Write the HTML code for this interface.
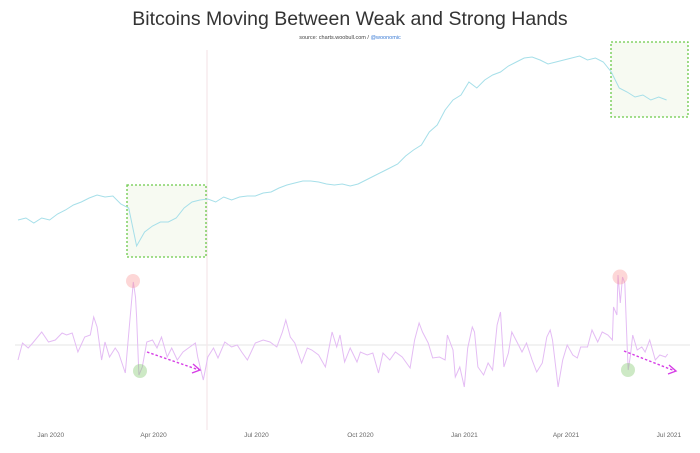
<!DOCTYPE html>
<html><head><meta charset="utf-8"><style>
body{margin:0;background:#fff;width:700px;height:448px;overflow:hidden;font-family:"Liberation Sans",sans-serif}
</style></head><body>
<svg id="chart" width="700" height="448" xmlns="http://www.w3.org/2000/svg">
<text x="350" y="25" text-anchor="middle" font-size="19.5" fill="#333" font-family="Liberation Sans, sans-serif">Bitcoins Moving Between Weak and Strong Hands</text>
<text x="350" y="39" text-anchor="middle" font-size="5.5" fill="#444">source: charts.woobull.com / <tspan fill="#3a7bd5">@woonomic</tspan></text>
<line x1="15" y1="345" x2="690" y2="345" stroke="#e6e6e6" stroke-width="1"/>
<line x1="207" y1="50" x2="207" y2="430" stroke="#f5e6ea" stroke-width="1.2"/>
<rect x="127" y="185" width="79" height="72" fill="#f7faf2" stroke="#6cc94a" stroke-width="1.3" stroke-dasharray="2,2"/>
<rect x="611" y="42" width="77" height="75" fill="#f7faf2" stroke="#6cc94a" stroke-width="1.3" stroke-dasharray="2,2"/>
<g id="axis"></g>
<path id="price" fill="none" stroke="#a6dfe9" stroke-width="1"/>
<path id="osc" fill="none" stroke="#e4bcf4" stroke-width="1"/>
<circle cx="133" cy="281" r="7" fill="rgba(250,140,140,0.35)"/>
<circle cx="140" cy="371" r="7" fill="rgba(130,200,110,0.4)"/>
<circle cx="620" cy="277" r="7.5" fill="rgba(250,140,140,0.35)"/>
<circle cx="628" cy="370" r="7" fill="rgba(130,200,110,0.4)"/>
<g stroke="#d63ee6" stroke-width="1.4" fill="none">
<line x1="147" y1="352" x2="199" y2="370" stroke-dasharray="2.5,2"/><polyline points="193,364 200,370 192,373"/></g>
<g stroke="#d63ee6" stroke-width="1.4" fill="none">
<line x1="624" y1="351" x2="675" y2="371" stroke-dasharray="2.5,2"/><polyline points="669,365 676,371 668,374"/></g>
</svg>
<script>
const tickLabels=["Jan 2020","Apr 2020","Jul 2020","Oct 2020","Jan 2021","Apr 2021","Jul 2021"];
const tickDays=[29,120,211,303,395,485,576];
const priceValues=[80,82,77,82,80,86,90,95,98,102,105,103,104,96,92,54,68,74,78,78,82,92,98,100,101,98,103,100,103,104,104,107,108,112,115,117,119,119,118,116,115,116,114,116,120,124,128,132,136,144,150,155,168,175,190,200,205,218,212,220,225,228,234,238,242,243,240,236,238,240,242,244,240,242,238,228,212,208,203,205,200,203,200];
const oscDays=[0,4,9,13,21,27,33,39,43,48,53,59,64,67,70,74,77,81,86,89,95,99,102,104,105,107,110,114,119,123,127,132,136,141,146,152,157,159,164,168,173,177,183,189,194,198,203,210,217,223,229,234,237,241,245,251,256,260,266,272,278,282,285,289,294,300,303,309,314,319,323,329,334,340,347,351,355,358,363,367,373,378,380,385,387,391,395,398,402,404,407,412,416,420,424,427,430,434,437,442,446,450,455,459,464,468,471,473,478,482,486,491,495,498,504,508,513,517,522,526,527,530,531,533,535,537,539,540,542,544,548,552,555,559,564,568,573,575];
const oscValues=[-15,2,-3,2,13,3,5,12,10,12,-7,8,10,28,18,-15,3,-12,-3,-8,-28,25,63,48,28,-30,-22,3,5,-3,8,-12,-3,-15,-7,-2,2,-12,-35,-12,-3,-13,3,-2,0,-7,-15,2,5,3,-2,13,25,8,2,-18,-3,-5,-10,-22,13,-2,10,-17,-3,-17,-7,-10,-8,-28,-8,-15,-7,-12,-23,5,22,13,2,-13,-12,-15,10,-5,-32,-22,-42,-3,18,13,-22,-30,-18,-25,20,33,-22,-8,13,2,-7,2,-15,-27,-18,8,15,5,-42,-15,0,-10,-13,-2,-2,15,3,13,10,5,38,30,70,42,68,62,0,-25,-10,10,-5,-2,-7,5,-15,-10,-12,-9];
const xS=d=>18+d*1.13;
const yP=v=>300-v;
const yO=v=>345-v;
let d="";priceValues.forEach((v,i)=>{d+=(i?"L":"M")+xS(i*7).toFixed(1)+","+yP(v).toFixed(1);});
document.getElementById("price").setAttribute("d",d);
d="";oscValues.forEach((v,i)=>{d+=(i?"L":"M")+xS(oscDays[i]).toFixed(1)+","+yO(v).toFixed(1);});
document.getElementById("osc").setAttribute("d",d);
const ax=document.getElementById("axis");
tickLabels.forEach((t,i)=>{
const el=document.createElementNS("http://www.w3.org/2000/svg","text");


el.setAttribute("x",xS(tickDays[i]));el.setAttribute("y",437);
el.setAttribute("text-anchor","middle");el.setAttribute("font-size","6.5");el.setAttribute("fill","#666");
el.textContent=t;ax.appendChild(el);});
</script>
</body></html>
